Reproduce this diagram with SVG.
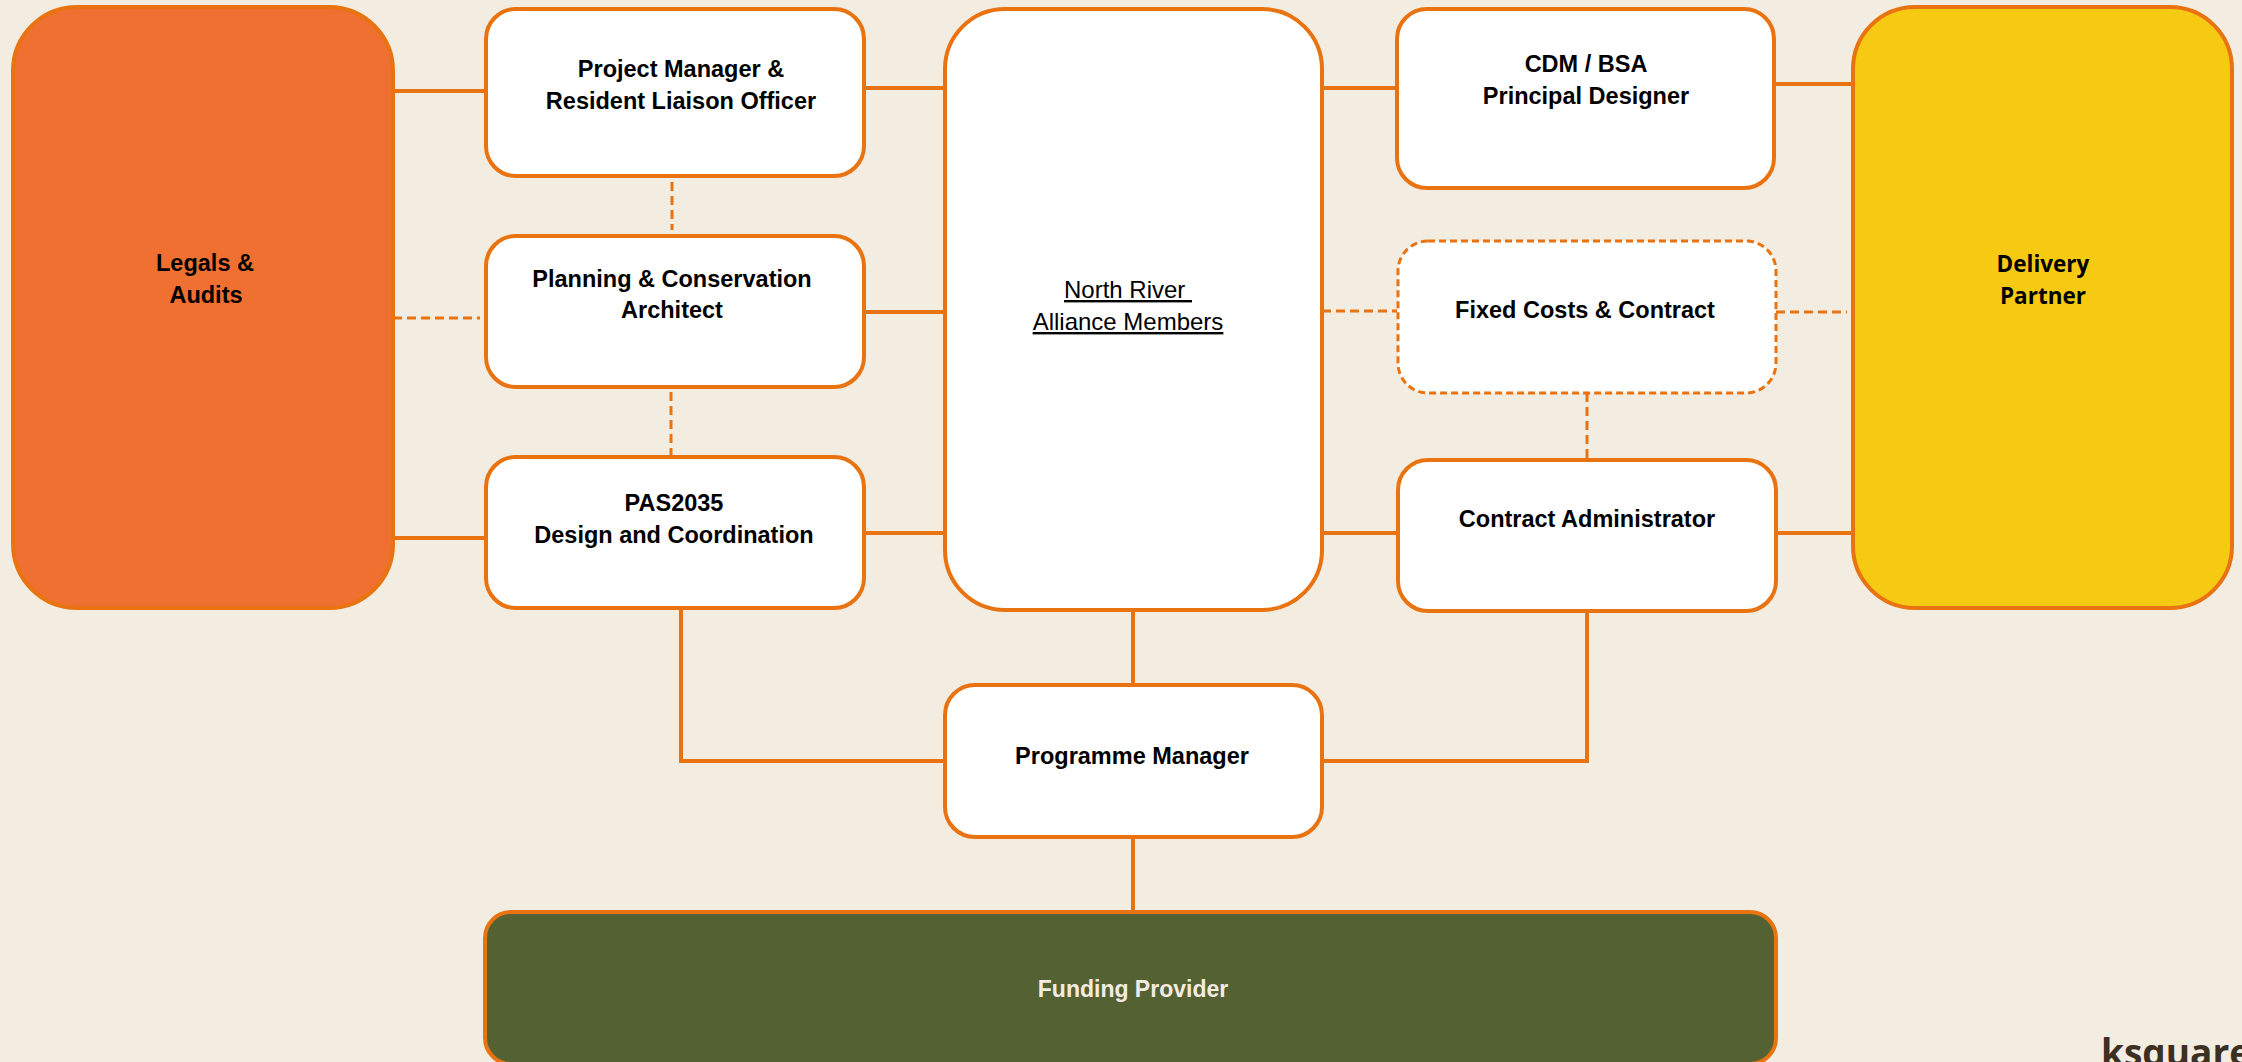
<svg xmlns="http://www.w3.org/2000/svg" width="2242" height="1062" viewBox="0 0 2242 1062">
<style>
.box{stroke:#E97311;stroke-width:4;fill:#FFFFFF}
.dbox{stroke:#E97311;stroke-width:3;fill:#FFFFFF;stroke-dasharray:7 4}
.ln{stroke:#E97311;stroke-width:4;fill:none}
.dl{stroke:#E97311;stroke-width:3;fill:none;stroke-dasharray:9 5}
.t{font-family:"Liberation Sans",Arial,sans-serif;font-weight:bold;font-size:23.5px;fill:#000000;text-anchor:middle}
.u{font-family:"Liberation Sans",Arial,sans-serif;font-size:24px;fill:#000000;text-anchor:middle;text-decoration:underline}
.o{font-family:"Open Sans",sans-serif;font-weight:bold;font-size:22.5px;fill:#000000;text-anchor:middle}
</style>
<rect x="0" y="0" width="2242" height="1062" fill="#F3ECE1"/>
<g id="connectors">
<path class="ln" d="M393 91 H486"/>
<path class="ln" d="M393 538 H486"/>
<path class="ln" d="M864 88 H945"/>
<path class="ln" d="M864 312 H945"/>
<path class="ln" d="M864 533 H945"/>
<path class="ln" d="M1322 88 H1397"/>
<path class="ln" d="M1322 533 H1398"/>
<path class="ln" d="M1774 84 H1853"/>
<path class="ln" d="M1776 533 H1853"/>
<path class="ln" d="M681 608 V761 H945"/>
<path class="ln" d="M1133 610 V685"/>
<path class="ln" d="M1587 611 V761 H1322"/>
<path class="ln" d="M1133 837 V912"/>
<path class="dl" d="M393 318 H480"/>
<path class="dl" d="M672 182 V230"/>
<path class="dl" d="M671 392 V455"/>
<path class="dl" d="M1322 311 H1397"/>
<path class="dl" d="M1776 312 H1847"/>
<path class="dl" d="M1587 393 V460"/>
</g>
<g id="legals">
<rect x="13" y="7" width="380" height="601" rx="64" ry="64" class="box" fill="#EF7030" style="fill:#EF7030"/>
<text class="t" x="205" y="271">Legals &amp;</text>
<text class="t" x="206" y="303">Audits</text>
</g>
<g id="project-manager">
<rect x="486" y="9" width="378" height="167" rx="30" class="box"/>
<text class="t" x="681" y="77">Project Manager &amp;</text>
<text class="t" x="681" y="109">Resident Liaison Officer</text>
</g>
<g id="planning">
<rect x="486" y="236" width="378" height="151" rx="30" class="box"/>
<text class="t" x="672" y="287">Planning &amp; Conservation</text>
<text class="t" x="672" y="318">Architect</text>
</g>
<g id="pas2035">
<rect x="486" y="457" width="378" height="151" rx="30" class="box"/>
<text class="t" x="674" y="511">PAS2035</text>
<text class="t" x="674" y="543">Design and Coordination</text>
</g>
<g id="north-river">
<rect x="945" y="9" width="377" height="601" rx="60" class="box"/>
<text class="u" x="1128" y="298" xml:space="preserve">North River </text>
<text class="u" x="1128" y="330">Alliance Members</text>
</g>
<g id="cdm">
<rect x="1397" y="9" width="377" height="179" rx="30" class="box"/>
<text class="t" x="1586" y="72">CDM / BSA</text>
<text class="t" x="1586" y="104">Principal Designer</text>
</g>
<g id="fixed-costs">
<rect x="1398" y="241" width="378" height="152" rx="30" class="dbox"/>
<text class="t" x="1585" y="318">Fixed Costs &amp; Contract</text>
</g>
<g id="contract-admin">
<rect x="1398" y="460" width="378" height="151" rx="30" class="box"/>
<text class="t" x="1587" y="527">Contract Administrator</text>
</g>
<g id="delivery">
<rect x="1853" y="7" width="379" height="601" rx="62" class="box" style="fill:#F6C913"/>
<text class="o" x="2043" y="272">Delivery</text>
<text class="o" x="2043" y="304">Partner</text>
</g>
<g id="programme-manager">
<rect x="945" y="685" width="377" height="152" rx="30" class="box"/>
<text class="t" x="1132" y="764">Programme Manager</text>
</g>
<g id="funding">
<rect x="485" y="912" width="1291" height="152" rx="26" class="box" style="fill:#546133"/>
<text class="t" x="1133" y="997" style="fill:#F3ECE1;font-size:23px">Funding Provider</text>
</g>
<text x="2101" y="1066" style="font-family:'Open Sans',sans-serif;font-weight:bold;font-size:37px;fill:#3B3022">ksquared</text>
</svg>
